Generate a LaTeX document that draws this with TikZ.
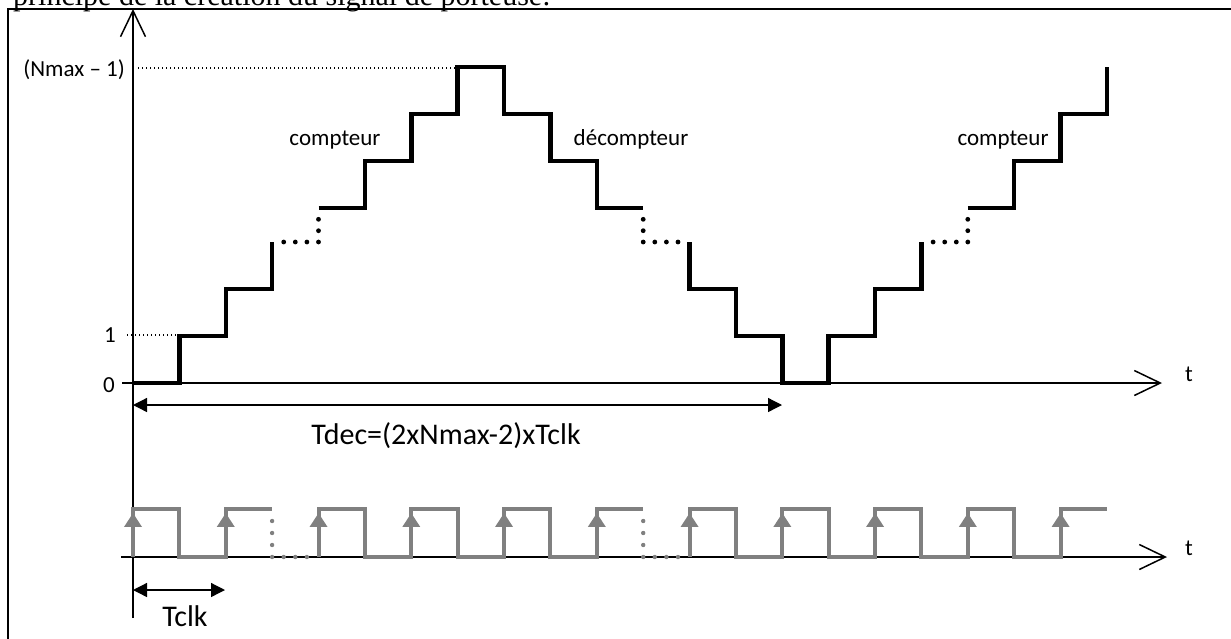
\documentclass[tikz,border=0pt]{standalone}
\usepackage{fontspec}
\setmainfont{Carlito}
\newfontfamily\serifTimes{Liberation Serif}
\usetikzlibrary{arrows.meta}
\begin{document}
\begin{tikzpicture}[x=1pt,y=-1pt,
  lbl/.style={font=\fontsize{23}{28}\selectfont, inner sep=0pt},
  biglbl/.style={font=\fontsize{30}{36}\selectfont, inner sep=0pt},
  axisline/.style={line width=1.5pt, -{Straight Barb[length=26pt,width=25pt]}},
  stair/.style={line width=4.5pt, line join=miter},
  clk/.style={line width=4pt, draw=black!50, line join=miter},
  guide/.style={line width=1.3pt, dash pattern=on 1.3pt off 2.7pt},
  dimarrow/.style={line width=1.3pt, {Triangle[length=14pt,width=14pt]}-{Triangle[length=14pt,width=14pt]}},
  risetip/.style={line width=4pt, draw=black!50, -{Triangle[length=14pt,width=17pt]}}
]
\useasboundingbox (0,0) rectangle (1231,638);
% caption cut at top
\node[anchor=base west, inner sep=0pt, font=\serifTimes\fontsize{30}{36}\selectfont] (caption) at (13,5) {principe de la création du signal de porteuse:};
% frame
\draw[line width=2.2pt] (8,650) -- (8,9) -- (1245,9);
% axes
\coordinate (ybot) at (133,618);
\coordinate (ytop) at (133,9);
\draw[axisline] (ybot) -- (ytop);
\coordinate (t1s) at (122,383);
\coordinate (t1e) at (1162,383);
\draw[axisline] (t1s) -- (t1e);
\coordinate (t2s) at (121,557);
\coordinate (t2e) at (1167,557);
\draw[axisline] (t2s) -- (t2e);
\node[lbl, anchor=base] (tlab1) at (1189,381) {t};
\node[lbl, anchor=base] (tlab2) at (1189,555) {t};
% level guides
\draw[guide] (138,68) -- (460,68);
\draw[guide] (127,335) -- (178,335);
\node[lbl, anchor=base east] (nmax) at (125,76) {(Nmax – 1)};
\node[lbl, anchor=base] (one) at (110,342) {1};
\node[lbl, anchor=base] (zero) at (109,392) {0};
% staircase
\begin{scope}[shift={(133,383)}, x=46.38pt, y=47pt]
  \draw[stair] (0,0) -- (1,0) -- (1,1) -- (2,1) -- (2,2) -- (3,2) -- (3,3);
  \draw[stair] (4,3.7234) -- (5,3.7234) -- (5,4.7234) -- (6,4.7234) -- (6,5.7234) -- (7,5.7234) -- (7,6.7234) -- (8,6.7234) -- (8,5.7234) -- (9,5.7234) -- (9,4.7234) -- (10,4.7234) -- (10,3.7234) -- (11,3.7234);
  \draw[stair] (12,3) -- (12,2) -- (13,2) -- (13,1) -- (14,1) -- (14,0) -- (15,0) -- (15,1) -- (16,1) -- (16,2) -- (17,2) -- (17,3);
  \draw[stair] (18,3.7234) -- (19,3.7234) -- (19,4.7234) -- (20,4.7234) -- (20,5.7234) -- (21,5.7234) -- (21,6.7234);
\end{scope}
% staircase dots
\foreach \px/\py in {283.7/242, 295.3/242, 306.9/242, 318.5/242, 318.5/230.7, 318.5/219.3,
                     643.2/219.3, 643.2/230.7, 643.2/242, 654.8/242, 666.4/242, 678/242,
                     933.1/242, 944.7/242, 956.3/242, 967.8/242, 967.8/230.7, 967.8/219.3}
  \fill (\px,\py) circle (2.4pt);
% labels
\node[lbl, anchor=base] (cpt1) at (335,145) {compteur};
\node[lbl, anchor=base] (dcpt) at (631,145) {décompteur};
\node[lbl, anchor=base] (cpt2) at (1003,145) {compteur};
% Tdec
\coordinate (tdecL) at (133,405);
\coordinate (tdecR) at (782,405);
\draw[dimarrow] (tdecL) -- (tdecR);
\node[biglbl, anchor=base] (tdec) at (446,444) {Tdec=(2xNmax-2)xTclk};
% clock
\begin{scope}[shift={(133,557)}, x=46.38pt, y=48pt]
  \draw[clk] (0,0) -- (0,1) -- (1,1) -- (1,0) -- (2,0) -- (2,1) -- (3,1);
  \draw[clk] (4,0) -- (4,1) -- (5,1) -- (5,0) -- (6,0) -- (6,1) -- (7,1) -- (7,0) -- (8,0) -- (8,1) -- (9,1) -- (9,0) -- (10,0) -- (10,1) -- (11,1);
  \draw[clk] (12,0) -- (12,1) -- (13,1) -- (13,0) -- (14,0) -- (14,1) -- (15,1) -- (15,0) -- (16,0) -- (16,1) -- (17,1) -- (17,0) -- (18,0) -- (18,1) -- (19,1) -- (19,0) -- (20,0) -- (20,1) -- (21,1);
  \foreach \k in {0,2,4,6,8,10,12,14,16,18,20}
    \draw[risetip] (\k,0) -- (\k,0.917);
\end{scope}
\foreach \px/\py in {272.1/521, 272.1/533, 272.1/545, 272.1/557, 283.7/557, 295.3/557, 306.9/557,
                     643.2/521, 643.2/533, 643.2/545, 643.2/557, 654.8/557, 666.4/557, 678/557}
  \fill[black!50] (\px,\py) circle (2.2pt);
% Tclk
\coordinate (tclkL) at (133,590);
\coordinate (tclkR) at (225,590);
\draw[dimarrow] (tclkL) -- (tclkR);
\node[biglbl, anchor=base] (tclk) at (185,626) {Tclk};
\end{tikzpicture}
\end{document}
